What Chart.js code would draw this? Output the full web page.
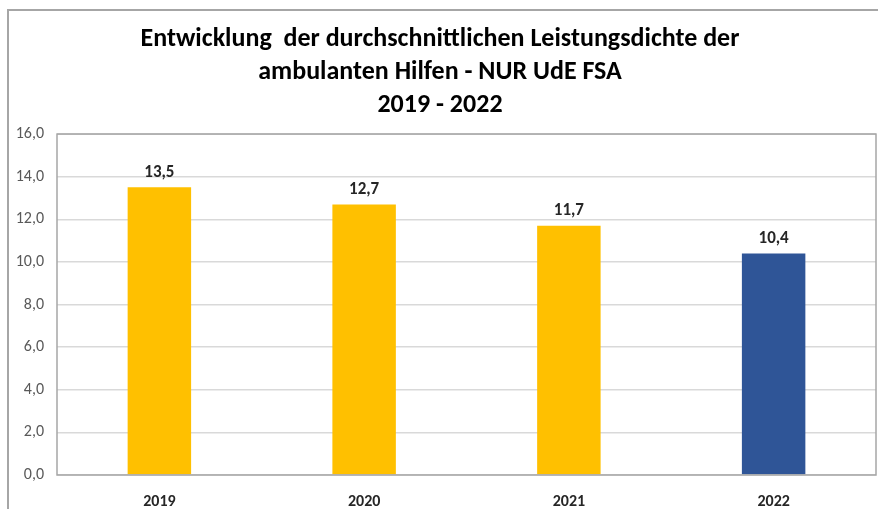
<!DOCTYPE html>
<html>
<head>
<meta charset="utf-8">
<script src="https://cdn.jsdelivr.net/npm/chart.js@4"></script>
<style>
  html, body { margin: 0; padding: 0; background: #fff; }
  #wrap { position: relative; width: 878px; height: 509px; }
</style>
</head>
<body>
<div id="wrap"><canvas id="chart" width="878" height="509"></canvas></div>
<script>
const years = ['2019', '2020', '2021', '2022'];
const density = [13.5, 12.7, 11.7, 10.4];
const barColors = ['#FFC000', '#FFC000', '#FFC000', '#2F5597'];
const titleLines = ['Entwicklung  der durchschnittlichen Leistungsdichte der', 'ambulanten Hilfen - NUR UdE FSA', '2019 - 2022'];

const FONT = "Carlito, Calibri, Lato, sans-serif";

const fmt = v => v.toFixed(1).replace('.', ',');

// outer frame + plot box
const framePlugin = {
  id: 'frame',
  beforeDraw(chart) {
    const c = chart.ctx;
    c.save();
    c.strokeStyle = '#a6a6a6';
    c.lineWidth = 2;
    c.beginPath();
    c.moveTo(8, 509);
    c.lineTo(8, 10);
    c.lineTo(878, 10);
    c.stroke();
    c.restore();
  },
  afterDatasetsDraw(chart) {
    const a = chart.chartArea, c = chart.ctx;
    c.save();
    c.strokeStyle = '#a6a6a6';
    c.lineWidth = 1.5;
    c.strokeRect(a.left, a.top, a.right - a.left, a.bottom - a.top);
    c.restore();
  }
};

// value labels above the bars
const labelPlugin = {
  id: 'barLabels',
  afterDatasetsDraw(chart) {
    const c = chart.ctx;
    const meta = chart.getDatasetMeta(0);
    c.save();
    c.font = 'bold 17px ' + FONT;
    c.fillStyle = '#262626';
    c.textAlign = 'center';
    c.textBaseline = 'bottom';
    meta.data.forEach((bar, i) => {
      c.fillText(fmt(density[i]), bar.x, bar.y - 6);
    });
    c.restore();
  }
};

new Chart(document.getElementById('chart'), {
  type: 'bar',
  data: {
    labels: years,
    datasets: [{
      data: density,
      backgroundColor: barColors,
      barPercentage: 0.31,
      categoryPercentage: 1.0
    }]
  },
  options: {
    responsive: false,
    animation: false,
    layout: { padding: { left: 4, right: 2, top: 0, bottom: 0 } },
    plugins: {
      legend: { display: false },
      tooltip: { enabled: false },
      title: {
        display: true,
        text: titleLines,
        color: '#000',
        font: { family: FONT, size: 26, weight: 'bold', lineHeight: 1.27 },
        padding: { top: 23, bottom: 12 }
      }
    },
    scales: {
      x: {
        grid: { display: false },
        border: { display: false },
        ticks: { color: '#262626', font: { family: FONT, size: 16, weight: 'bold' }, padding: 9 },
        afterFit(s) { s.height = 34; }
      },
      y: {
        min: 0,
        max: 16,
        ticks: { stepSize: 2, color: '#595959', font: { family: FONT, size: 16 }, padding: 13, callback: v => fmt(v) },
        grid: { color: '#d9d9d9', lineWidth: 1.5, drawTicks: false },
        border: { display: false },
        afterFit(s) { s.width = 53; }
      }
    }
  },
  plugins: [framePlugin, labelPlugin]
});
</script>
</body>
</html>
